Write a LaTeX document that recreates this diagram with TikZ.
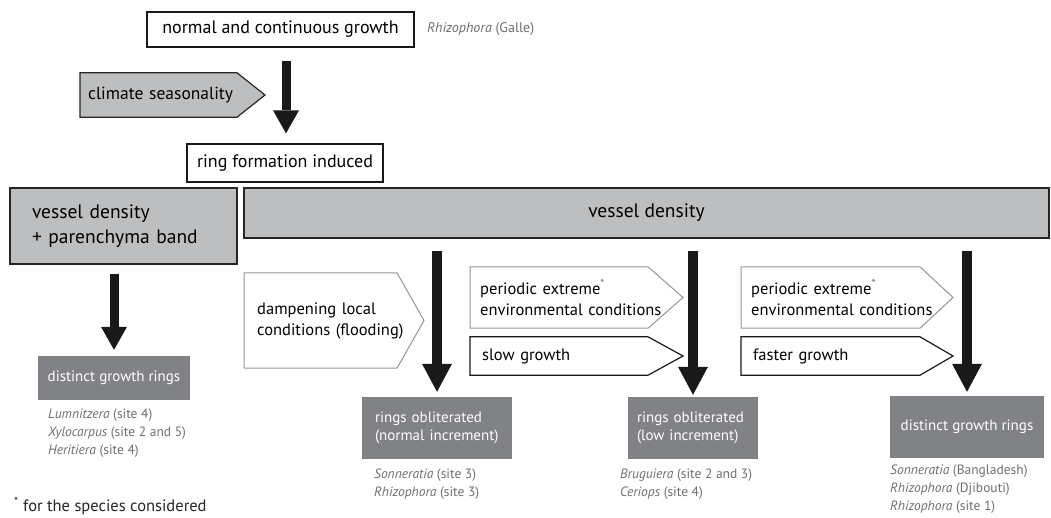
\documentclass[tikz,border=0pt]{standalone}
\usepackage{fontspec}
\setmainfont{PT Sans}
\usetikzlibrary{arrows.meta, backgrounds}
\definecolor{lightgrey}{HTML}{BCBEC0}
\definecolor{darkgrey}{HTML}{808285}
\definecolor{textgrey}{HTML}{6D6E71}
\definecolor{edgegrey}{HTML}{939598}

\begin{document}
\begin{tikzpicture}[x=1pt, y=-1pt,
  whitebox/.style={draw=black!90, line width=1.3pt, fill=white, inner sep=0pt, font=\fontsize{18}{21}\selectfont},
  greybox/.style={draw=black!85, line width=1.3pt, fill=lightgrey, inner sep=0pt, font=\fontsize{19.5}{25}\selectfont},
  resultbox/.style={fill=darkgrey, text=white, inner sep=0pt, align=left, font=\fontsize{15}{18}\selectfont},
  condtext/.style={anchor=west, inner ysep=0pt, align=left, text width=200pt, font=\fontsize{16.5}{21}\selectfont},
  condgrey/.style={draw=black!85, line width=1.2pt, fill=lightgrey},
  condwhite/.style={draw=edgegrey, line width=1pt, fill=white},
  condblack/.style={draw=black!90, line width=1.2pt, fill=white},
  species/.style={anchor=west, inner sep=0pt, align=left, text=textgrey, font=\fontsize{13.5}{18}\selectfont},
  bigarrow/.style={draw=black!90, line width=10pt, -{Triangle[length=28pt, width=30pt, line width=0pt]}},
  smallarrow/.style={draw=black!90, line width=9pt, -{Triangle[length=23pt, width=26pt, line width=0pt]}}]
\useasboundingbox (0,0) rectangle (1051,517);

% top of the scheme
\node[whitebox, minimum width=267pt, minimum height=35pt] (normal) at (280.5,29.5) {normal and continuous growth};
\node[species, font=\fontsize{14}{18}\selectfont] (galle) at (427,29) {\textit{Rhizophora} (Galle)};
\node[condtext, inner xsep=8pt, minimum height=44pt, font=\fontsize{17.5}{21}\selectfont] (clim) at (80,95) {climate seasonality};
\node[whitebox, minimum width=196pt, minimum height=38pt] (ring) at (285,163) {ring formation induced};
\draw[smallarrow, shorten <=13pt, shorten >=10pt] ([xshift=5.5pt]normal.south) -- ([xshift=1pt]ring.north);

% the two anatomical features
\node[greybox, inner xsep=22pt, text width=183pt, minimum height=76pt, align=left] (lvd) at (123.5,226) {vessel density\\+ parenchyma band};
\node[greybox, minimum width=805pt, minimum height=50pt] (vd) at (646.5,213) {vessel density};

% left column
\node[resultbox, minimum width=152pt, minimum height=44pt, align=center] (ldist) at (114,378) {distinct growth rings};
\draw[smallarrow, shorten <=9pt, shorten >=6pt] ([xshift=-9.5pt]lvd.south) -- (ldist.north);
\node[species] (lspec) at (48,433) {\textit{Lumnitzera} (site 4)\\\textit{Xylocarpus} (site 2 and 5)\\\textit{Heritiera} (site 4)};
\node[anchor=west, inner sep=0pt, text=black!85, font=\fontsize{16.5}{20}\selectfont] (foot) at (14,506) {\textsuperscript{*} for the species considered};

% conditions
\node[condtext, inner xsep=13pt, minimum height=95pt] (damp) at (244,320.5) {dampening local\\conditions (flooding)};
\node[condtext, inner xsep=10pt, minimum height=61pt] (per1) at (470,297.5) {periodic extreme\textsuperscript{\textcolor{textgrey}{*}}\\environmental conditions};
\node[condtext, inner xsep=12pt, minimum height=38pt] (slow) at (470,356) {slow growth};
\node[condtext, inner xsep=10pt, minimum height=61pt] (per2) at (741,297.5) {periodic extreme\textsuperscript{\textcolor{textgrey}{*}}\\environmental conditions};
\node[condtext, inner xsep=12pt, minimum height=38pt] (fast) at (741,356) {faster growth};
\begin{scope}[on background layer]
\foreach \n/\w/\t/\s in {clim/157/28/condgrey, damp/153/27/condwhite, per1/178/35/condwhite, slow/178/35/condblack, per2/179/33/condwhite, fast/179/33/condblack}
  \draw[\s] (\n.north west) -- ++(\w,0) -- ([xshift=\w+\t]\n.west) -- ([xshift=\w]\n.south west) -- (\n.south west) -- cycle;
\end{scope}

% results
\node[resultbox, inner xsep=13pt, text width=124pt, minimum height=62pt] (normalinc) at (437,428) {rings obliterated\\(normal increment)};
\node[resultbox, inner xsep=9pt, text width=112pt, minimum height=62pt] (lowinc) at (693,428) {rings obliterated\\(low increment)};
\node[resultbox, minimum width=154pt, minimum height=62pt] (rdist) at (967,427) {distinct growth rings};
\draw[bigarrow, shorten <=12pt, shorten >=5pt] (vd.south -| normalinc.north) -- (normalinc.north);
\draw[bigarrow, shorten <=12pt, shorten >=2pt] (vd.south -| lowinc.north) -- (lowinc.north);
\draw[bigarrow, shorten <=12pt, shorten >=4pt] (vd.south -| rdist.north) -- (rdist.north);
\node[species] (nspec) at (374,484) {\textit{Sonneratia} (site 3)\\\textit{Rhizophora} (site 3)};
\node[species] (lowspec) at (620,484) {\textit{Bruguiera} (site 2 and 3)\\\textit{Ceriops} (site 4)};
\node[species] (rspec) at (890,489) {\textit{Sonneratia} (Bangladesh)\\\textit{Rhizophora} (Djibouti)\\\textit{Rhizophora} (site 1)};
\end{tikzpicture}
\end{document}
